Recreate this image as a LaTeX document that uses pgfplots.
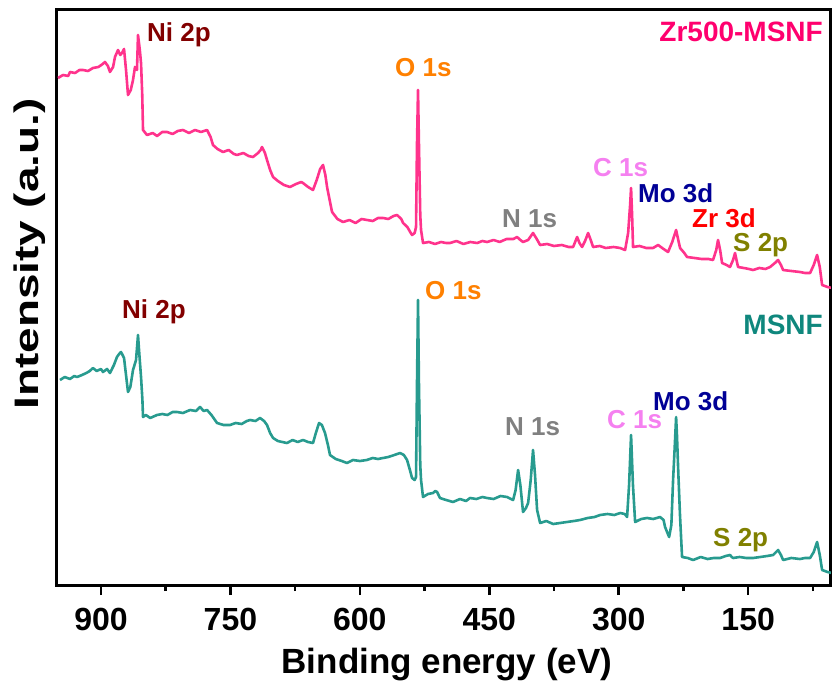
\documentclass[border=0pt]{standalone}
\usepackage{pgfplots}
\usepackage{pgfplotstable}
\pgfplotsset{compat=1.18}
\usepackage{fontspec}
\setmainfont{Liberation Sans}
\definecolor{pinkline}{RGB}{255,51,140}
\definecolor{pinklab}{RGB}{255,0,110}
\definecolor{tealline}{RGB}{40,155,143}
\definecolor{teallab}{RGB}{15,135,125}
\definecolor{nicol}{RGB}{130,0,0}
\definecolor{ocol}{RGB}{255,128,0}
\definecolor{ccol}{RGB}{245,128,240}
\definecolor{mocol}{RGB}{0,0,150}
\definecolor{ncol}{RGB}{128,128,128}
\definecolor{zrcol}{RGB}{255,0,0}
\definecolor{scol}{RGB}{128,128,0}

\pgfplotstableread{
x y
949.8 507
944 510
938 509
935.9 513
930 512
925 515
920.9 515
915 514
909.3 517
903 518
898 521
895.4 523
892 519
889.6 513
886 518
883.8 528
880.3 535
877.7 530
875.7 532
873.3 536
871 515
868.7 490
865.5 495
862.9 505
860.6 518
858.3 515
857.1 550
855 535
853.6 522
852.2 490
851.3 455
846.7 450
840 452
835 449
829 453
823.5 453
817 451
811 454
805 455
798 452
791 455
784 453
777.1 455
773 448
770.2 440
765 436
758.6 433
752 435
746 431
742.4 430
735 432
729 429
723.8 428
718 432
715 435
713.4 438
710 432
707.6 425
704 415
700.6 408
695 404
688 400
680.9 398
674 401
668 403
665.9 402
660 398
654.3 395
650 405
646 416
642.7 420
640 410
638 398
635 385
632.2 373
626 366
619.5 363
612 365
605 362
598 366
591.7 365
585 364
579 367
573.1 367
567 366
561 369
556.9 370
552 366
549.9 362
545 358
541 352
539.5 350
536.5 352
534.9 358
533.8 440
532.6 495
531.5 440
530 370
529.1 355
526.8 342
520 343
513 341
506 343
500 342
495.5 342
488 344
480 341
472 343
464 342
458 344
452.6 343
445 345
438 343
430 346
422 346
417.8 348
414 345
410.9 343
405 345
399.3 352
395 346
391.1 340
383 341
375 339
366 340
358 338
352.9 338
350.5 343
348.2 348
345.5 342
342.5 338
339 344
335.5 352
332 344
329.7 338
322 339
315 337
306 338
298.4 337
292.6 335
289.1 352
286.8 380
285.7 397
284.5 370
283.4 338
276 339
268 337
260.2 337
254.4 340
248 336
242.8 333
238 343
233.5 355
231 345
228.9 337
224 332
220.8 328
212 327
204 326
196 326
190.7 325
187 335
184.9 345
182.5 335
180.2 322
175 320
171.0 318
167.5 325
165.2 332
163.5 325
161.7 318
155 317
149 316
144.3 315
137 317
130 316
124.6 318
119 322
115.3 325
112 320
109.5 315
100 314
90 313
84 312
78.2 312
74 320
70.1 330
67 318
64.3 300
58 298
52.7 297
}\pinkdata

\pgfplotstableread{
x y
947.5 205
942 208
936 206
931 209
927.8 208
922 210
917 212
913 214
909.3 217
905 214
900 216
897.7 213
893 216
889.6 212
885 220
881.5 228
879 231
876.8 233
875 230
873.3 227
871 210
868.7 193
866 198
862.9 215
859.4 225
857.1 250
855.5 230
853.6 208
852 185
851.3 168
848 170
843 167
835.1 170
829 171
823 170
817 173
811.9 173
805 172
796.8 175
790 174
785.2 178
781 174
777.1 175
772 170
765.5 162
758 160
750.5 160
744 162
737 161
731 164
727.3 165
721 164
715.7 167
711 164
707.6 160
704 152
700.6 147
695 144
690 143
684.4 142
678 145
672 143
665.9 145
660 143
654.3 142
651 152
647.3 162
644 160
640.4 152
637 140
634.6 130
628 126
621 124
614.9 122
608 125
600 124
592 125
585 127
579 126
573.1 127
567 128
560 130
553.4 132
549 130
545.3 125
542 115
539.5 107
536.5 105
534.9 108
533.8 200
532.6 285
531.5 200
530 120
529.1 105
526.8 88
521 91
515.2 92
512.5 94
510.5 93
507.1 87
500 85
492.0 83
484 86
477 84
472.3 87
465 86
458 88
452.6 87
445 86
437 89
429.4 88
422.4 85
419.5 95
416.6 115
414 100
410.9 73
407.5 77
405.0 82
402 105
399.3 135
397 110
394.6 75
391.1 62
384 64
376 61
368 62
360 63
352 64
344.8 65
336 67
328 68
321.6 70
313 71
305 70
298.4 72
293 71
290.3 68
288 100
285.7 150
283.5 100
281.0 63
274 66
267.1 67
260 66
252.1 68
248 65
246.3 58
243.5 52
241.6 48
239 60
237.0 105
235 140
233.5 168
232.5 150
231.2 118
229 70
226.6 28
220 27
213.8 25
205 28
197 26
190 27
182.5 27
176 29
171.0 30
169 28
167.4 27
160 28
152 27
144.3 27
136 28
128 29
121.1 30
115.3 35
112 30
109.5 25
100 27
90 26
84 27
78.2 27
74 33
70.1 43
67 30
64.3 15
58 13
52.7 12
}\tealdata

\begin{document}
\begin{tikzpicture}[font=\bfseries]
\useasboundingbox (-57pt,-101pt) rectangle (778pt,585pt);
\begin{axis}[
  at={(0pt,0pt)}, anchor=south west,
  scale only axis, width=774pt, height=575pt,
  xmin=54, xmax=951, ymin=0, ymax=575, x dir=reverse,
  xtick={150,300,450,600,750,900},
  minor xtick={75,225,375,525,675,825},
  ytick=\empty,
  xtick pos=left,
  tick align=outside,
  major tick length=10pt, minor tick length=6pt,
  every tick/.style={black, line width=2.5pt},
  axis line style={line width=3pt},
  /pgf/number format/assume math mode=true,
  xticklabel style={font=\fontsize{32}{36}\selectfont\bfseries, inner sep=0pt, anchor=north, yshift=-13pt},
]
\addplot[pinkline, line width=2.6pt, line join=round, no marks] table[x=x, y=y] {\pinkdata};
\addplot[tealline, line width=2.6pt, line join=round, no marks] table[x=x, y=y] {\tealdata};
\end{axis}
% axis labels
\node[anchor=base, inner sep=0pt, font=\fontsize{35}{40}\selectfont\bfseries] at (390pt,-88pt) {Binding energy (eV)};
\node[rotate=90, inner sep=0pt, font=\fontsize{34}{40}\selectfont\bfseries] at (-27pt,331pt) {\scalebox{1.35}[1]{Intensity (a.u.)}};
% peak labels, top spectrum
\begin{scope}[every node/.style={inner sep=0pt, anchor=base west, font=\fontsize{26}{30}\selectfont\bfseries}]
\node[nicol] at (90pt,543pt) {Ni 2p};
\node[ocol] at (338pt,508pt) {O 1s};
\node[ccol] at (536pt,408pt) {C 1s};
\node[mocol] at (581pt,382pt) {Mo 3d};
\node[ncol] at (445pt,357pt) {N 1s};
\node[zrcol] at (635pt,357pt) {Zr 3d};
\node[scol] at (676pt,333pt) {S 2p};
\node[nicol] at (65pt,266pt) {Ni 2p};
\node[ocol] at (368pt,285pt) {O 1s};
\node[ncol] at (448pt,150pt) {N 1s};
\node[ccol] at (550pt,157pt) {C 1s};
\node[mocol] at (596pt,175pt) {Mo 3d};
\node[scol] at (656pt,39pt) {S 2p};
\end{scope}
\node[pinklab, inner sep=0pt, anchor=base east, font=\fontsize{28}{32}\selectfont\bfseries] at (766pt,543pt) {Zr500-MSNF};
\node[teallab, inner sep=0pt, anchor=base east, font=\fontsize{28}{32}\selectfont\bfseries] at (766pt,250pt) {MSNF};
\end{tikzpicture}
\end{document}
